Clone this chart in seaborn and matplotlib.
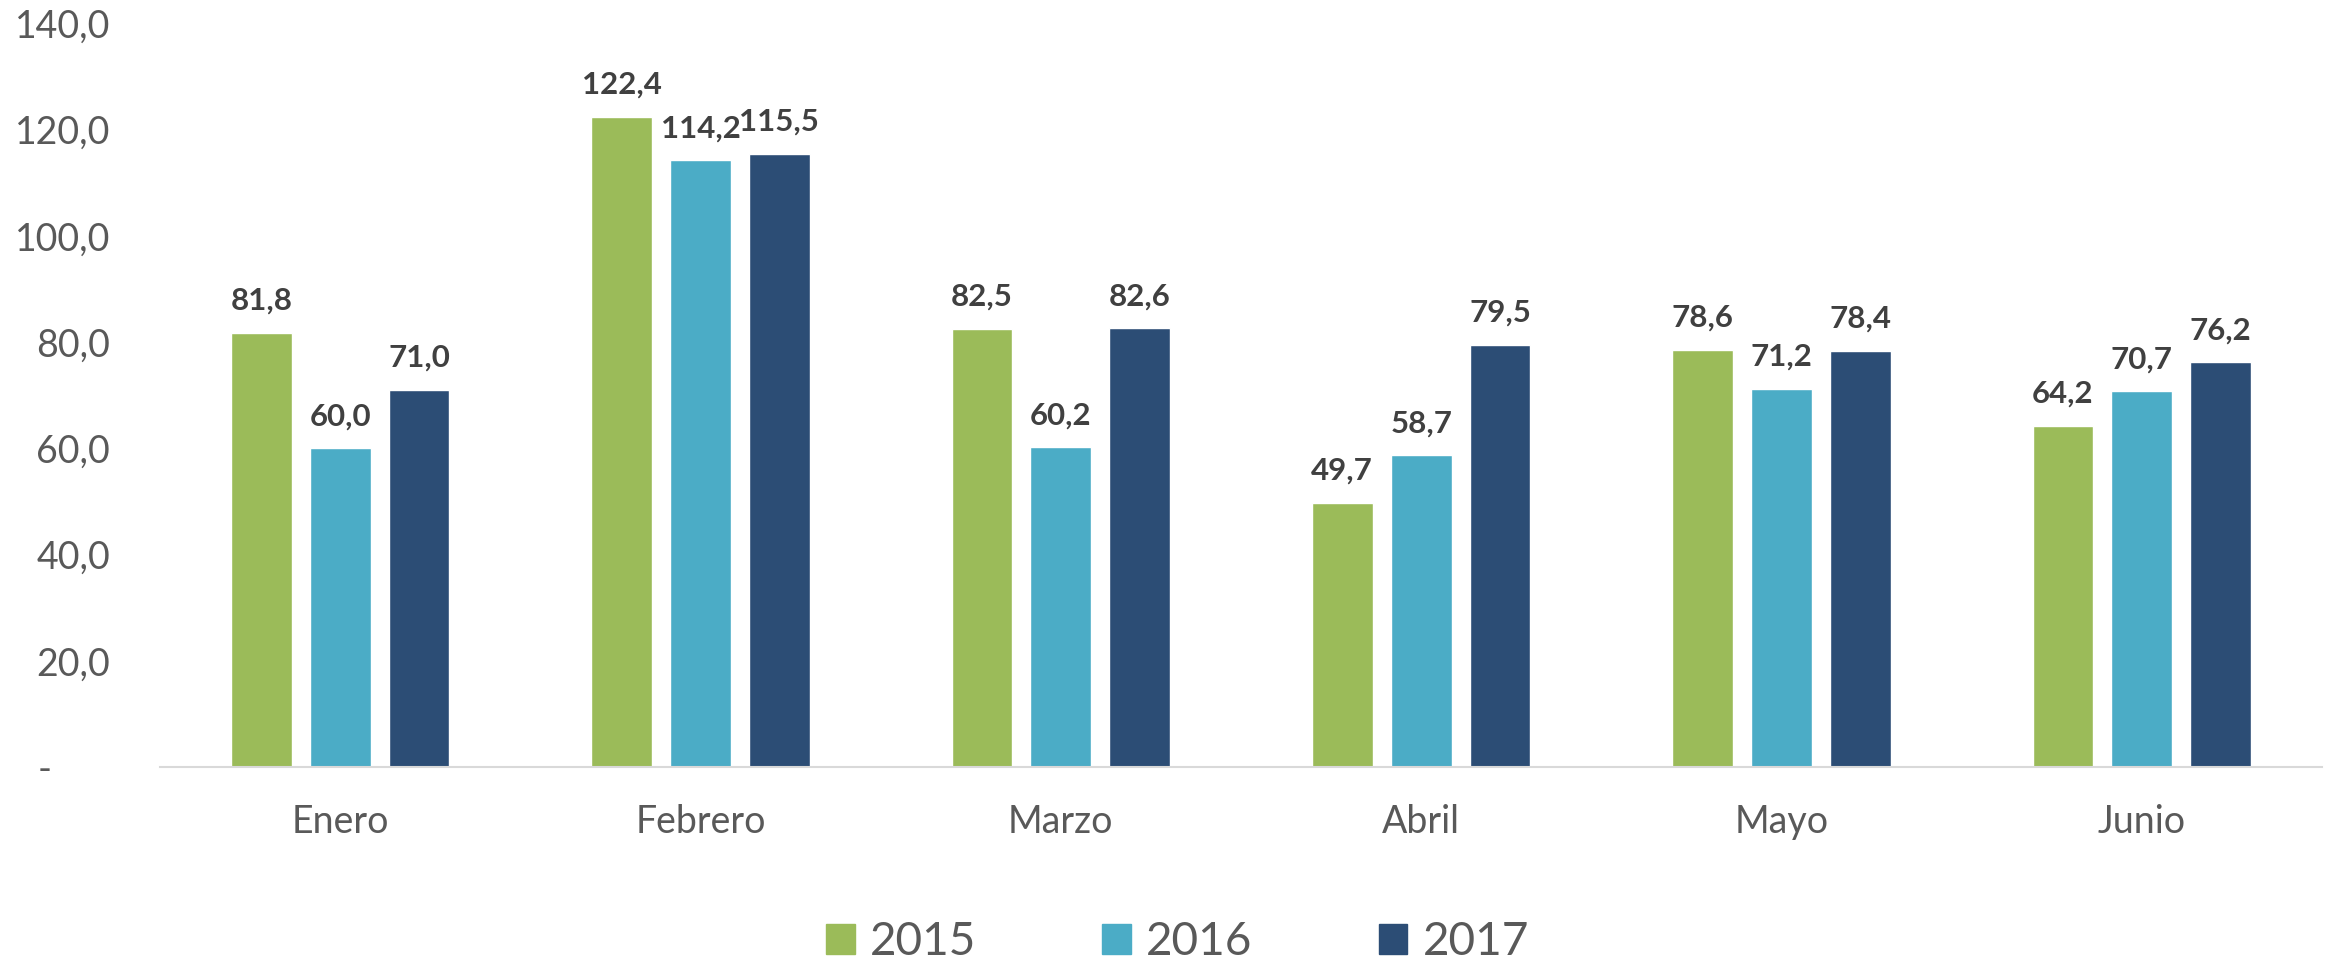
import matplotlib
matplotlib.use("Agg")
import matplotlib.pyplot as plt
import seaborn as sns
import pandas as pd

meses = ["Enero", "Febrero", "Marzo", "Abril", "Mayo", "Junio"]
anios = ["2015", "2016", "2017"]
v2015 = [81.8, 122.4, 82.5, 49.7, 78.6, 64.2]
v2016 = [60.0, 114.2, 60.2, 58.7, 71.2, 70.7]
v2017 = [71.0, 115.5, 82.6, 79.5, 78.4, 76.2]
colores = ["#9BBB59", "#4BACC6", "#2C4D75"]
yticks = [0, 20, 40, 60, 80, 100, 120, 140]

rows = []
for anio, vals in zip(anios, [v2015, v2016, v2017]):
    for m, v in zip(meses, vals):
        rows.append({"Mes": m, "Año": anio, "Valor": v})
df = pd.DataFrame(rows)

sns.set_theme(style="white")
plt.rcParams["font.family"] = ["Lato", "DejaVu Sans"]

fig = plt.figure(figsize=(23.36, 9.65), dpi=100)
ax = fig.add_axes([0.0685, 0.2052, 0.9255, 0.7705])

sns.barplot(data=df, x="Mes", y="Valor", hue="Año", palette=colores,
            width=0.657, gap=0.23, ax=ax, saturation=1, errorbar=None)

ax.set_ylim(0, 140)
ax.set_xlim(-0.5, len(meses) - 0.5)
ax.set_yticks(yticks)
ax.set_yticklabels(["-" + " " * 6 if t == 0 else f"{t:.1f}".replace(".", ",")
                    for t in yticks])
ax.set_xlabel("")
ax.set_ylabel("")
ax.tick_params(axis="y", labelsize=27, colors="#595959", length=0, pad=36)
ax.tick_params(axis="x", labelsize=27, colors="#595959", length=0, pad=27)
for s in ["top", "right", "left"]:
    ax.spines[s].set_visible(False)
ax.spines["bottom"].set_color("#D9D9D9")
ax.spines["bottom"].set_linewidth(1.5)

for cont in ax.containers:
    labels = [f"{b.get_height():.1f}".replace(".", ",") for b in cont]
    ax.bar_label(cont, labels=labels, padding=13, fontsize=22.5, fontweight="bold",
                 color="#404040")

ax.get_legend().remove()
handles = [plt.Rectangle((0, 0), 1, 1, color=c) for c in colores]
fig.legend(handles, anios, loc="center", bbox_to_anchor=(0.504, 0.024), ncol=3,
           frameon=False, prop={"size": 33},
           handlelength=0.63, handleheight=0.63, handletextpad=0.33,
           columnspacing=2.75, labelcolor="#595959")

fig.savefig("out.png", dpi=100, facecolor="white")
